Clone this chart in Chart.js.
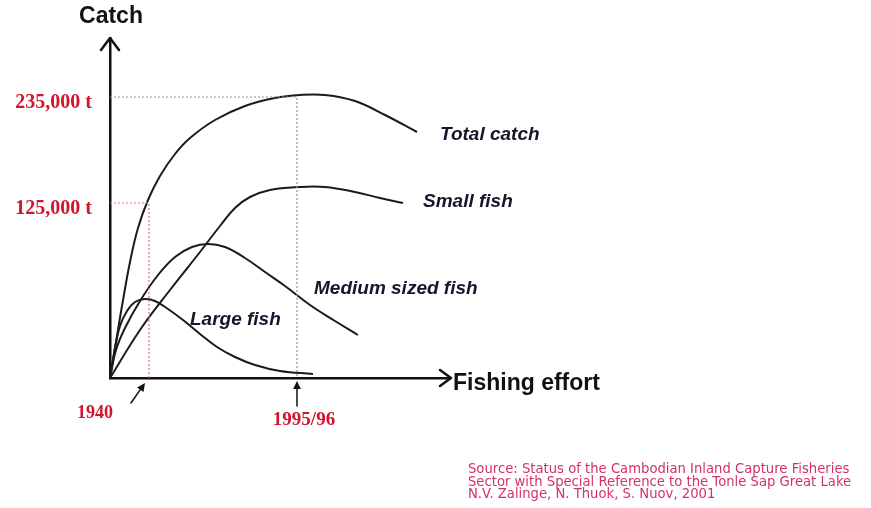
<!DOCTYPE html>
<html lang="en">
<head>
    <meta charset="UTF-8">
    <title>Catch vs Fishing effort</title>
    <script src="https://cdn.jsdelivr.net/npm/chart.js@4.4.0/dist/chart.umd.min.js"></script>
    <style>
        html, body {
            margin: 0;
            padding: 0;
            background: #ffffff;
        }
        .chart-box {
            position: relative;
            width: 871px;
            height: 508px;
        }
    </style>
</head>
<body>
    <div class="chart-box">
        <canvas id="catchChart"></canvas>
    </div>

    <script>
        // Schematic units: both axes run 0..340 (no real scale in the original sketch)
        const totalCatch = [
            {x: 0, y: 0}, {x: 6, y: 36}, {x: 12, y: 72}, {x: 20, y: 116}, {x: 28, y: 150},
            {x: 38, y: 178}, {x: 50, y: 202}, {x: 65, y: 224}, {x: 80, y: 240}, {x: 105, y: 258},
            {x: 135, y: 272}, {x: 165, y: 280}, {x: 190, y: 283}, {x: 215, y: 283},
            {x: 245, y: 277}, {x: 275, y: 263}, {x: 307, y: 246}
        ];
        const smallFish = [
            {x: 0, y: 0}, {x: 30, y: 48}, {x: 60, y: 88}, {x: 90, y: 126}, {x: 110, y: 152},
            {x: 125, y: 170}, {x: 140, y: 181}, {x: 160, y: 188}, {x: 190, y: 191},
            {x: 215, y: 191}, {x: 245, y: 186}, {x: 270, y: 180}, {x: 293, y: 175}
        ];
        const mediumFish = [
            {x: 0, y: 0}, {x: 6, y: 28}, {x: 15, y: 50}, {x: 30, y: 77}, {x: 48, y: 103},
            {x: 65, y: 121}, {x: 82, y: 131}, {x: 98, y: 134}, {x: 115, y: 131}, {x: 135, y: 120},
            {x: 155, y: 106}, {x: 175, y: 92}, {x: 200, y: 73}, {x: 225, y: 57}, {x: 248, y: 43}
        ];
        const largeFish = [
            {x: 0, y: 0}, {x: 5, y: 30}, {x: 10, y: 52}, {x: 17, y: 67}, {x: 25, y: 76},
            {x: 35, y: 79}, {x: 45, y: 77}, {x: 58, y: 69}, {x: 73, y: 58}, {x: 90, y: 44},
            {x: 107, y: 31}, {x: 125, y: 21}, {x: 145, y: 13}, {x: 170, y: 7}, {x: 203, y: 4}
        ];

        const seriesNames = ['Total catch', 'Small fish', 'Medium sized fish', 'Large fish'];

        const catchTickValues = [175, 281];
        const catchTickLabels = ['125,000 t', '235,000 t'];
        const effortTickValues = [39, 187];
        const effortTickLabels = ['1940', '1995/96'];

        const sourceLines = [
            'Source: Status of the Cambodian Inland Capture Fisheries',
            'Sector with Special Reference to the Tonle Sap Great Lake',
            'N.V. Zalinge, N. Thuok, S. Nuov, 2001'
        ];

        // guide lines from each tick label to its effort marker
        const guide1940 = [
            {x: 0, y: catchTickValues[0]}, {x: effortTickValues[0], y: catchTickValues[0]},
            {x: effortTickValues[0], y: 0}
        ];
        const guide1995 = [
            {x: 0, y: catchTickValues[1]}, {x: effortTickValues[1], y: catchTickValues[1]},
            {x: effortTickValues[1], y: 0}
        ];

        const curveStyle = {
            borderColor: '#1b1b1b',
            borderWidth: 2,
            pointRadius: 0,
            tension: 0.4,
            fill: false
        };

        // Arrows, axis titles, curve labels and source text
        const sketchPlugin = {
            id: 'sketch',
            afterDraw(chart) {
                const {ctx, chartArea: area, scales: {x, y}} = chart;
                const ox = area.left, oy = area.bottom;
                ctx.save();
                ctx.strokeStyle = '#111';
                ctx.fillStyle = '#111';
                ctx.lineWidth = 2.5;
                ctx.lineCap = 'round';
                ctx.lineJoin = 'round';

                // open arrow heads on the axes
                ctx.beginPath();
                ctx.moveTo(ox - 9, area.top + 12);
                ctx.lineTo(ox, area.top);
                ctx.lineTo(ox + 9, area.top + 12);
                ctx.moveTo(area.right - 10, oy - 8);
                ctx.lineTo(area.right + 1, oy);
                ctx.lineTo(area.right - 10, oy + 8);
                ctx.stroke();

                // axis titles
                ctx.font = 'bold 23px "Liberation Sans", Arial, sans-serif';
                ctx.textBaseline = 'middle';
                ctx.textAlign = 'center';
                ctx.fillText('Catch', ox + 1, 17);
                ctx.textAlign = 'left';
                ctx.fillText('Fishing effort', area.right + 3, oy + 6);

                // effort tick labels with pointing arrows
                const x1940 = x.getPixelForValue(effortTickValues[0]);
                const x1995 = x.getPixelForValue(effortTickValues[1]);
                ctx.lineWidth = 1.5;
                drawArrow(ctx, x1940 - 18, oy + 25, x1940 - 4, oy + 5);
                drawArrow(ctx, x1995, oy + 28, x1995, oy + 3);

                ctx.fillStyle = '#d2142c';
                ctx.font = 'bold 18px "Liberation Serif", "Times New Roman", serif';
                ctx.textAlign = 'center';
                ctx.fillText(effortTickLabels[0], x1940 - 54, oy + 35);
                ctx.font = 'bold 19px "Liberation Serif", "Times New Roman", serif';
                ctx.fillText(effortTickLabels[1], x1995 + 7, oy + 42);

                // curve labels (anchored in data units)
                const curveLabels = [
                    {text: seriesNames[0], x: 330, y: 243},
                    {text: seriesNames[1], x: 313, y: 176},
                    {text: seriesNames[2], x: 204, y: 89},
                    {text: seriesNames[3], x: 80, y: 58}
                ];
                ctx.fillStyle = '#16162a';
                ctx.font = 'italic bold 19px "Liberation Sans", Arial, sans-serif';
                ctx.textAlign = 'left';
                curveLabels.forEach(l => {
                    ctx.fillText(l.text, x.getPixelForValue(l.x), y.getPixelForValue(l.y));
                });

                // source note
                ctx.fillStyle = '#d4306a';
                ctx.font = '13.2px "DejaVu Sans", sans-serif';
                sourceLines.forEach((line, i) => {
                    ctx.fillText(line, 468, 470 + i * 12.5);
                });
                ctx.restore();
            }
        };

        function drawArrow(ctx, x0, y0, x1, y1) {
            const ang = Math.atan2(y1 - y0, x1 - x0);
            const len = 9, half = 0.45;
            ctx.beginPath();
            ctx.moveTo(x0, y0);
            ctx.lineTo(x1 - Math.cos(ang) * len * 0.6, y1 - Math.sin(ang) * len * 0.6);
            ctx.stroke();
            ctx.beginPath();
            ctx.moveTo(x1, y1);
            ctx.lineTo(x1 - len * Math.cos(ang - half), y1 - len * Math.sin(ang - half));
            ctx.lineTo(x1 - len * Math.cos(ang + half), y1 - len * Math.sin(ang + half));
            ctx.closePath();
            ctx.fill();
        }

        const ctx = document.getElementById('catchChart').getContext('2d');
        new Chart(ctx, {
            type: 'line',
            data: {
                datasets: [
                    {label: 'guide 1995/96', data: guide1995, borderColor: '#a08a90', borderWidth: 1.2,
                        borderDash: [2, 2], pointRadius: 0, tension: 0},
                    {label: 'guide 1940', data: guide1940, borderColor: '#e0708a', borderWidth: 1.2,
                        borderDash: [2, 2], pointRadius: 0, tension: 0},
                    {label: seriesNames[0], data: totalCatch, ...curveStyle},
                    {label: seriesNames[1], data: smallFish, ...curveStyle},
                    {label: seriesNames[2], data: mediumFish, ...curveStyle},
                    {label: seriesNames[3], data: largeFish, ...curveStyle}
                ]
            },
            options: {
                responsive: true,
                maintainAspectRatio: false,
                animation: false,
                layout: {
                    padding: {top: 38, right: 421, bottom: 0, left: 0}
                },
                scales: {
                    x: {
                        type: 'linear',
                        min: 0,
                        max: 340,
                        grid: {display: false},
                        border: {display: true, color: '#111', width: 2.5},
                        ticks: {display: false},
                        afterFit(scale) { scale.height = 130; }
                    },
                    y: {
                        type: 'linear',
                        min: 0,
                        max: 340,
                        grid: {display: false, drawTicks: false},
                        border: {display: true, color: '#111', width: 2.5},
                        afterBuildTicks(scale) {
                            scale.ticks = catchTickValues.map(v => ({value: v}));
                        },
                        ticks: {
                            padding: 18,
                            labelOffset: 6,
                            color: '#d2142c',
                            font: {family: '"Liberation Serif", "Times New Roman", serif', size: 20, weight: 'bold'},
                            callback: (value) => catchTickLabels[catchTickValues.indexOf(value)]
                        },
                        afterFit(scale) { scale.width = 110; }
                    }
                },
                plugins: {
                    legend: {display: false},
                    tooltip: {enabled: false}
                }
            },
            plugins: [sketchPlugin]
        });
    </script>
</body>
</html>
